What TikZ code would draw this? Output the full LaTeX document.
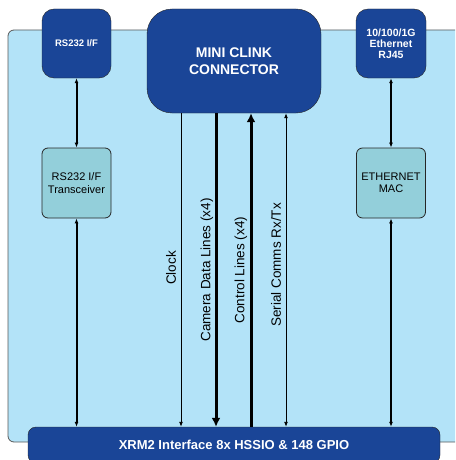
\documentclass[tikz,border=0pt]{standalone}
\usepackage{fontspec}
\setmainfont{Liberation Sans}
\usepackage{tikz}
\usetikzlibrary{arrows.meta,positioning}
\definecolor{xrmblue}{HTML}{1A4597}
\definecolor{boardblue}{HTML}{B3E3F8}
\definecolor{chipteal}{HTML}{93CFDA}

\begin{document}
\begin{tikzpicture}[
    x=1pt, y=-1pt,
    darkbox/.style={draw=black!85, fill=xrmblue, text=white, rounded corners=12pt, font=\bfseries, align=center, inner sep=0},
    chipbox/.style={draw=black!85, line width=0.8pt, fill=chipteal, rounded corners=6pt, align=center, inner sep=0,
        minimum width=69pt, minimum height=70pt, font=\fontsize{11}{12.5}\selectfont},
    thinbus/.style={draw=black, line width=0.9pt},
    midbus/.style={draw=black, line width=2pt},
    fatbus/.style={draw=black, line width=3pt},
    smalltip/.style={arrows={#1}, >={Latex[length=5pt,width=4pt]}},
    bigtip/.style={arrows={#1}, >={Latex[length=9pt,width=9pt]}},
    buslabel/.style={rotate=90, inner sep=0, font=\fontsize{13.5}{15}\selectfont}]
\useasboundingbox (0,0) rectangle (455,460);
\clip (0,0) rectangle (455,460);

% board
\fill[boardblue, draw=black!65, line width=0.8pt, rounded corners=6pt] (8,30) rectangle (470,442);

% blocks
\node[darkbox, minimum width=69pt, minimum height=69pt, font=\bfseries\fontsize{9.5}{11}\selectfont] (rsport) at (76.5,43.5) {RS232 I/F};
\node[darkbox, minimum width=174pt, minimum height=104pt, rounded corners=25pt, font=\bfseries\fontsize{14}{17}\selectfont] (clink) at (234,61) {MINI CLINK\\CONNECTOR};
\node[darkbox, minimum width=70pt, minimum height=69pt, font=\bfseries\fontsize{10.5}{11}\selectfont] (rjport) at (391,43.5) {10/100/1G\\Ethernet\\RJ45};
\node[chipbox] (rsxcvr) at (76.5,183) {RS232 I/F\\Transceiver};
\node[chipbox] (ethmac) at (391,183) {ETHERNET\\MAC};
\node[darkbox, minimum width=412pt, minimum height=36pt, rounded corners=8pt, font=\bfseries\fontsize{13}{15}\selectfont] (xrm) at (234,445) {XRM2 Interface 8x HSSIO \& 148 GPIO};

% bus positions
\coordinate (clk) at (181,0);
\coordinate (cam) at (216,0);
\coordinate (ctl) at (251,0);
\coordinate (ser) at (286,0);

% links
\draw[midbus, smalltip={<->}] (rsport) -- (rsxcvr);
\draw[midbus, smalltip={<->}] (rsxcvr) -- (rsxcvr |- xrm.north);
\draw[line width=2.5pt, smalltip={<->}] (rjport) -- (ethmac);
\draw[line width=2.5pt, smalltip={<->}] (ethmac) -- (ethmac |- xrm.north);
\draw[thinbus, smalltip={->}] (clink.south -| clk) -- (xrm.north -| clk);
\draw[fatbus, bigtip={->}] (clink.south -| cam) -- (xrm.north -| cam);
\draw[fatbus, bigtip={<-}] (clink.south -| ctl) -- (xrm.north -| ctl);
\draw[thinbus, smalltip={<->}] (clink.south -| ser) -- (xrm.north -| ser);

% labels
\node[buslabel] (clklabel) at (171,268) {Clock};
\node[buslabel] (camlabel) at (207,270) {Camera Data Lines (x4)};
\node[buslabel] (ctllabel) at (241,270) {Control Lines (x4)};
\node[buslabel] (serlabel) at (276,265) {Serial Comms Rx/Tx};

\end{tikzpicture}
\end{document}
